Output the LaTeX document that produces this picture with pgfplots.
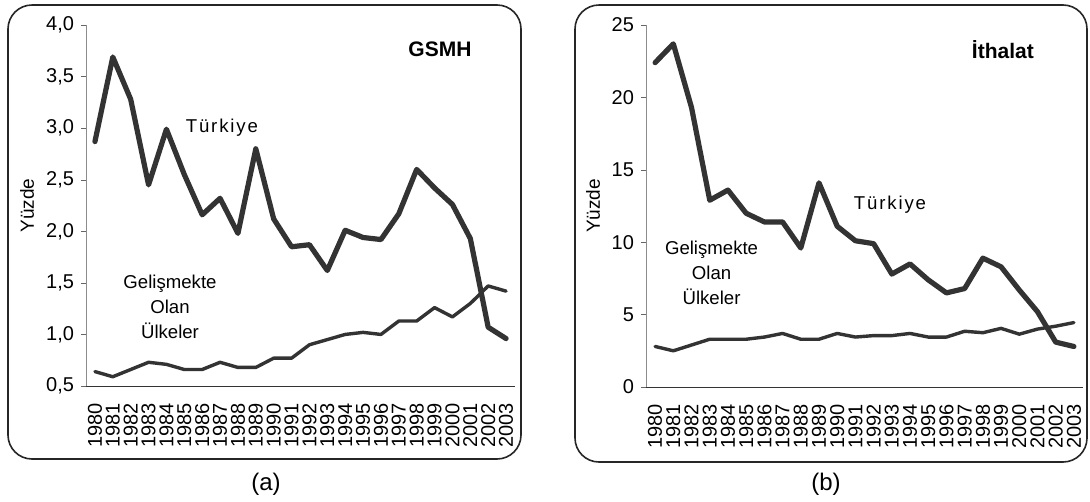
\documentclass[border=0pt]{standalone}
\usepackage{fontspec}
\setmainfont{Liberation Sans}
\usepackage{pgfplots}
\usepackage{pgfplotstable}
\pgfplotsset{compat=1.18}
\definecolor{ln}{HTML}{333333}

\pgfplotstableread{
i tr dev
0 2.87 0.64
1 3.69 0.59
2 3.28 0.66
3 2.45 0.73
4 2.99 0.71
5 2.55 0.66
6 2.16 0.66
7 2.32 0.73
8 1.98 0.68
9 2.80 0.68
10 2.12 0.77
11 1.85 0.77
12 1.87 0.90
13 1.62 0.95
14 2.01 1.00
15 1.94 1.02
16 1.92 1.00
17 2.17 1.13
18 2.60 1.13
19 2.42 1.26
20 2.26 1.17
21 1.93 1.30
22 1.07 1.47
23 0.96 1.42
}\gsmh

\pgfplotstableread{
i tr dev
0 22.4 2.8
1 23.7 2.5
2 19.3 2.9
3 12.9 3.3
4 13.6 3.3
5 12.0 3.3
6 11.4 3.45
7 11.4 3.7
8 9.6 3.3
9 14.1 3.3
10 11.1 3.7
11 10.1 3.45
12 9.9 3.55
13 7.8 3.55
14 8.5 3.7
15 7.4 3.45
16 6.5 3.45
17 6.8 3.85
18 8.9 3.75
19 8.3 4.05
20 6.7 3.65
21 5.2 4.0
22 3.1 4.2
23 2.8 4.45
}\ithalat

\newcommand\lbl{\fontsize{9.3}{12.5}\selectfont}
\newcommand\ttl{\fontsize{10.5}{12}\selectfont\bfseries}

\pgfplotsset{
  common/.style={
    scale only axis,
    anchor=south west,
    clip=false,
    axis lines=left,
    axis line style={-},
    x axis line style={black!80},
    y axis line style={black!45},
    xmin=-0.5, xmax=23.5,
    xtick={0,...,23},
    xticklabels={1980,1981,1982,1983,1984,1985,1986,1987,1988,1989,1990,1991,1992,1993,1994,1995,1996,1997,1998,1999,2000,2001,2002,2003},
    x tick style={draw=none},
    minor xtick={-0.5,0.5,...,23.5},
    minor tick length=2.5pt,
    major tick length=2.5pt,
    tick align=outside,
    every minor tick/.style={black!80, thin},
    y tick style={black!60},
    tick label style={font=\fontsize{10}{12}\selectfont},
    xticklabel style={rotate=90, anchor=east, inner sep=1pt, xshift=-5pt},
    /pgf/number format/assume math mode=true,
    ylabel={Yüzde},
    label style={font=\fontsize{9.5}{11}\selectfont},
  },
  tr/.style={ln, line width=2.6pt, line join=round, line cap=round},
  dv/.style={ln, line width=1.7pt, line join=round, line cap=round},
}

\begin{document}
\begin{tikzpicture}
\path (0,0) rectangle (545pt,250pt);
% boxes
\draw[black!85, line width=0.8pt, rounded corners=12pt] (4pt,20.5pt) rectangle (260.5pt,247.5pt);
\draw[black!85, line width=0.8pt, rounded corners=12pt] (287.5pt,19pt) rectangle (543.5pt,247.5pt);

\begin{axis}[common,
  at={(43pt,57pt)}, width=214.5pt, height=180.5pt,
  ymin=0.5, ymax=4.0,
  ytick={0.5,1.0,...,4.0},
  yticklabel style={/pgf/number format/.cd, fixed, fixed zerofill, precision=1, use comma},
  ylabel style={at={(axis description cs:-0.1375,0.5)}, anchor=center},
]
\addplot[tr] table[x=i, y=tr] {\gsmh};
\addplot[dv] table[x=i, y=dev] {\gsmh};
\node[font=\lbl\addfontfeature{LetterSpace=10}] at (axis cs:7.1,3.0) {Türkiye};
\node[font=\ttl] at (axis cs:19.3,3.76) {GSMH};
\node[font=\lbl, align=center] at (axis cs:4.2,1.27) {Gelişmekte\\Olan\\Ülkeler};
\end{axis}

\begin{axis}[common,
  at={(323pt,56.5pt)}, width=218.5pt, height=181pt,
  ymin=0, ymax=25,
  ytick={0,5,...,25},
  ylabel style={at={(axis description cs:-0.121,0.5)}, anchor=center},
]
\addplot[tr] table[x=i, y=tr] {\ithalat};
\addplot[dv] table[x=i, y=dev] {\ithalat};
\node[font=\lbl\addfontfeature{LetterSpace=10}] at (axis cs:12.9,12.6) {Türkiye};
\node[font=\ttl] at (axis cs:19.1,23.3) {İthalat};
\node[font=\lbl, align=center] at (axis cs:3.1,7.9) {Gelişmekte\\Olan\\Ülkeler};
\end{axis}

\node[font=\fontsize{12}{14}\selectfont] at (133pt,8pt) {(a)};
\node[font=\fontsize{12}{14}\selectfont] at (413pt,8pt) {(b)};
\end{tikzpicture}
\end{document}
